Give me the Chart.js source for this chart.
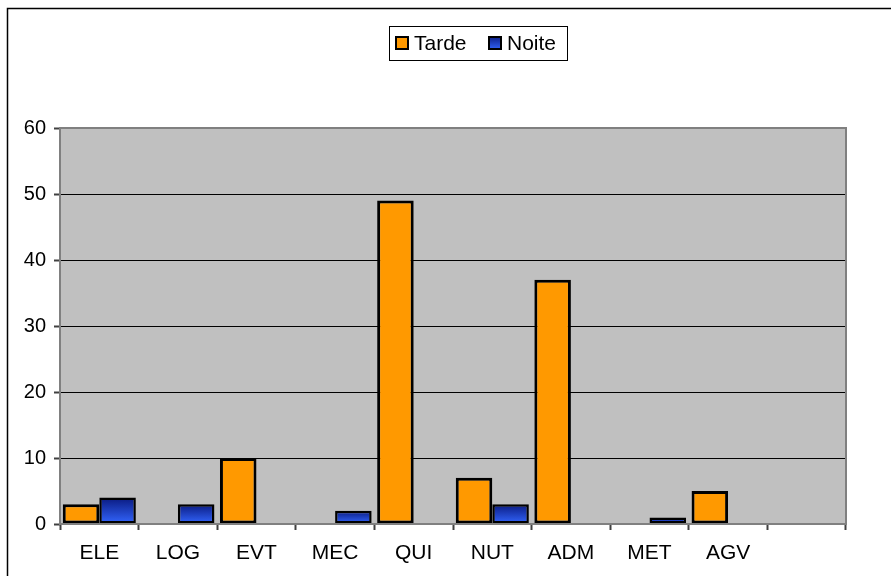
<!DOCTYPE html>
<html>
<head>
<meta charset="utf-8">
<script src="https://cdn.jsdelivr.net/npm/chart.js@4"></script>
<style>
  html, body { margin: 0; padding: 0; background: #fff; }
  #wrap { width: 891px; height: 576px; }
</style>
</head>
<body>
<div id="wrap"><canvas id="myChart" width="891" height="576"></canvas></div>
<script>
var categories = ['ELE', 'LOG', 'EVT', 'MEC', 'QUI', 'NUT', 'ADM', 'MET', 'AGV', ''];
var tarde = [3, 0, 10, 0, 49, 7, 37, 0, 5, 0];
var noite = [4, 3, 0, 2, 0, 3, 0, 1, 0, 0];
var yTicks = [0, 10, 20, 30, 40, 50, 60];

var FONT = 'Liberation Sans, Arial, sans-serif';
var ORANGE = '#FF9900';
var NAVY = '#0A1A80';
var BLUE = '#3366FF';

function blueGradient(context) {
    var chart = context.chart;
    var y = chart.scales && chart.scales.y;
    if (!chart.chartArea || !y || context.raw === undefined) return BLUE;
    var top = y.getPixelForValue(context.raw);
    var base = y.getPixelForValue(0);
    if (!isFinite(top) || !isFinite(base) || base - top < 1) return BLUE;
    var g = chart.ctx.createLinearGradient(0, top, 0, base);
    g.addColorStop(0, NAVY);
    g.addColorStop(1, BLUE);
    return g;
}

var framePlugin = {
    id: 'frame',
    beforeDraw: function (chart) {
        var c = chart.ctx, a = chart.chartArea;
        c.save();
        c.fillStyle = '#fff';
        c.fillRect(0, 0, chart.width, chart.height);
        c.fillStyle = '#C0C0C0';
        c.fillRect(a.left, a.top, a.right - a.left, a.bottom - a.top);
        // outer frame (right/bottom fall off the picture)
        c.strokeStyle = '#000';
        c.lineWidth = 1.5;
        c.beginPath();
        c.moveTo(7.5, chart.height + 5);
        c.lineTo(7.5, 8.5);
        c.lineTo(chart.width + 5, 8.5);
        c.stroke();
        c.restore();
    },
    afterDatasetsDraw: function (chart) {
        var c = chart.ctx, a = chart.chartArea;
        c.save();
        c.strokeStyle = '#808080';
        c.lineWidth = 2;
        c.strokeRect(a.left, a.top, a.right - a.left, a.bottom - a.top);
        c.restore();
    },
    afterDraw: function (chart) {
        var c = chart.ctx;
        c.save();
        // legend box
        c.strokeStyle = '#000';
        c.lineWidth = 1;
        c.strokeRect(389.5, 26.5, 178, 34);
        c.font = '21px ' + FONT;
        c.textBaseline = 'middle';
        var items = [
            { label: chart.data.datasets[0].label, x: 395, fill: ORANGE },
            { label: chart.data.datasets[1].label, x: 488, fill: null }
        ];
        items.forEach(function (it) {
            var sx = it.x, sy = 36, s = 14;
            if (it.fill) {
                c.fillStyle = it.fill;
            } else {
                var g = c.createLinearGradient(0, sy, 0, sy + s);
                g.addColorStop(0, NAVY);
                g.addColorStop(1, BLUE);
                c.fillStyle = g;
            }
            c.fillRect(sx, sy, s, s);
            c.lineWidth = 2;
            c.strokeStyle = '#000';
            c.strokeRect(sx + 1, sy + 1, s - 2, s - 2);
            c.fillStyle = '#000';
            c.fillText(it.label, sx + s + 5, 44);
        });
        c.restore();
    }
};

var ctx = document.getElementById('myChart').getContext('2d');
var myChart = new Chart(ctx, {
    type: 'bar',
    data: {
        labels: categories,
        datasets: [{
            label: 'Tarde',
            data: tarde,
            backgroundColor: ORANGE,
            borderColor: '#000',
            borderWidth: 3,
            borderSkipped: false
        }, {
            label: 'Noite',
            data: noite,
            backgroundColor: blueGradient,
            borderColor: '#000',
            borderWidth: 2.5,
            borderSkipped: false
        }]
    },
    options: {
        responsive: false,
        animation: false,
        devicePixelRatio: 1,
        layout: { padding: { top: 128, right: 45, bottom: 0, left: 0 } },
        plugins: {
            legend: { display: false },
            tooltip: { enabled: false }
        },
        datasets: {
            bar: { categoryPercentage: 0.93, barPercentage: 1 }
        },
        scales: {
            x: {
                grid: {
                    offset: true,
                    drawOnChartArea: false,
                    drawTicks: true,
                    tickLength: 6,
                    tickColor: '#404040',
                    tickWidth: 2
                },
                border: { display: false },
                ticks: {
                    color: '#000',
                    font: { family: FONT, size: 21 },
                    padding: 11,
                    maxRotation: 0,
                    autoSkip: false
                },
                afterFit: function (s) { s.height = 52; }
            },
            y: {
                min: 0,
                max: 60,
                afterBuildTicks: function (s) {
                    s.ticks = yTicks.map(function (v) { return { value: v }; });
                },
                grid: {
                    color: '#000',
                    lineWidth: 1,
                    drawTicks: true,
                    tickLength: 6,
                    tickColor: '#404040',
                    tickWidth: 2
                },
                border: { display: false },
                ticks: {
                    color: '#000',
                    font: { family: FONT, size: 20 },
                    padding: 8
                },
                afterFit: function (s) { s.width = 60; }
            }
        }
    },
    plugins: [framePlugin]
});
</script>
</body>
</html>
